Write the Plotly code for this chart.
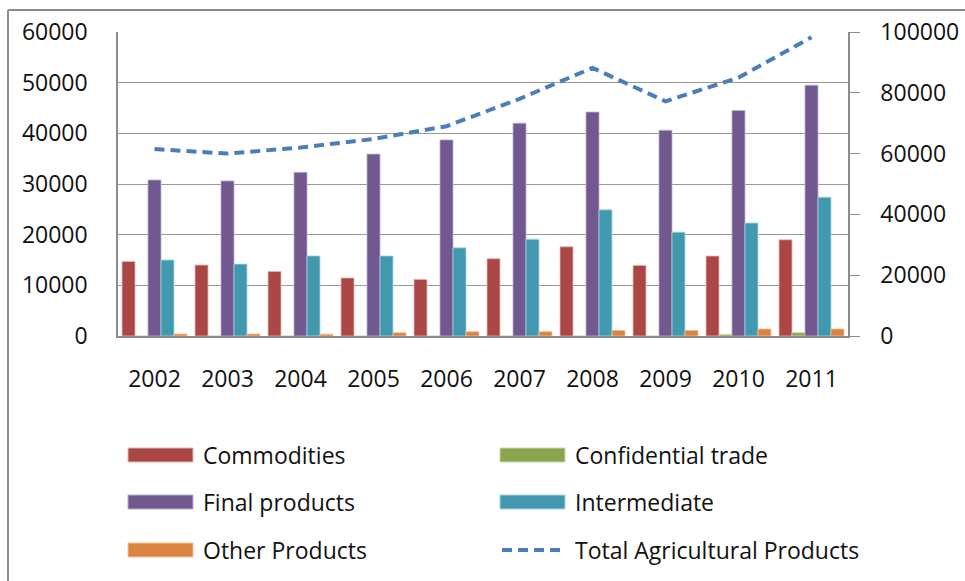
import plotly.graph_objects as go

years = ["2002", "2003", "2004", "2005", "2006", "2007", "2008", "2009", "2010", "2011"]
commodities = [14700, 14000, 12750, 11450, 11170, 15250, 17600, 13930, 15790, 19000]
confidential = [0, 0, 0, 0, 0, 0, 0, 0, 300, 650]
final_products = [30800, 30600, 32300, 35900, 38700, 42000, 44200, 40600, 44500, 49500]
intermediate = [15000, 14200, 15800, 15800, 17400, 19100, 24900, 20500, 22300, 27400]
other_products = [400, 400, 350, 650, 850, 850, 1100, 1100, 1380, 1380]
total_agri = [61500, 60000, 62000, 64800, 69000, 78000, 88200, 77200, 85000, 98300]

bar_names = ["Commodities", "Confidential trade", "Final products", "Intermediate", "Other Products"]
bar_values = [commodities, confidential, final_products, intermediate, other_products]
bar_colors = ["#AA4643", "#89A54E", "#71588F", "#4198AF", "#DB843D"]
bar_edges = ["#E8B4B3", "#C9DBA8", "#BCAED0", "#A9D6E2", "#F2C29C"]
line_name = "Total Agricultural Products"
line_color = "#4A7EBB"

FONT = "Open Sans, Noto Sans, sans-serif"
W, H = 965, 581
L, R, T, B = 118, 848, 32, 336

fig = go.Figure()
for name, vals, col, edge in zip(bar_names, bar_values, bar_colors, bar_edges):
    fig.add_trace(go.Bar(x=years, y=vals, name=name, marker_color=col,
                         marker_line=dict(color=edge, width=0.8), showlegend=False))
fig.add_trace(go.Scatter(x=years, y=total_agri, name=line_name, yaxis="y2", mode="lines",
                         line=dict(color=line_color, width=4, dash="10px,6px"), showlegend=False))

fig.update_layout(
    template="none",
    width=W, height=H,
    margin=dict(l=L, r=W - R, t=T, b=H - B, pad=0, autoexpand=False),
    paper_bgcolor="white", plot_bgcolor="white",
    font=dict(family=FONT, size=23, color="#111"),
    barmode="group", bargap=0.11, bargroupgap=0,
    xaxis=dict(type="category", tickmode="array", tickvals=years, ticktext=years,
               showline=True, linecolor="#8C8C8C", linewidth=2, ticks="outside",
               ticklen=0, ticklabelstandoff=21, showgrid=False, mirror=False,
               automargin=False, zeroline=False),
    yaxis=dict(range=[0, 60000], dtick=10000, tickformat="d", showline=True,
               linecolor="#8C8C8C", linewidth=1.5, showgrid=True, gridcolor="#9A9A9A",
               gridwidth=1, ticks="", ticklabelstandoff=24, zeroline=False,
               automargin=False),
    yaxis2=dict(range=[0, 100000], dtick=20000, tickformat="d", overlaying="y",
                side="right", showline=True, linecolor="#8C8C8C", linewidth=1.5,
                showgrid=False, ticks="outside", ticklen=10, tickcolor="#8C8C8C",
                ticklabelstandoff=16, zeroline=False, automargin=False),
)

def px_x(p):
    return (p - L) / (R - L)

def px_y(p):
    return (B - p) / (B - T)

# outer frame (left and top edges visible)
fig.add_shape(type="line", xref="paper", yref="paper", x0=px_x(8), x1=px_x(8),
              y0=px_y(1000), y1=px_y(10), line=dict(color="#8C8C8C", width=2))
fig.add_shape(type="line", xref="paper", yref="paper", x0=px_x(8), x1=px_x(1200),
              y0=px_y(10), y1=px_y(10), line=dict(color="#8C8C8C", width=2))

# manual legend, two columns x three rows
legend_items = [(n, c, "bar") for n, c in zip(bar_names, bar_colors)] + [(line_name, line_color, "line")]
col_x = [128, 500]
row_y = [455, 502, 550]
for i, (name, col, kind) in enumerate(legend_items):
    cx = col_x[i % 2]
    cy = row_y[i // 2]
    if kind == "bar":
        fig.add_shape(type="rect", xref="paper", yref="paper",
                      x0=px_x(cx), x1=px_x(cx + 65), y0=px_y(cy + 7), y1=px_y(cy - 7),
                      fillcolor=col, line=dict(color=bar_edges[i], width=1))
    else:
        fig.add_shape(type="line", xref="paper", yref="paper",
                      x0=px_x(cx + 2), x1=px_x(cx + 65), y0=px_y(cy), y1=px_y(cy),
                      line=dict(color=col, width=4, dash="10px,6px"))
    fig.add_annotation(text=name, xref="paper", yref="paper", x=px_x(cx + 73), y=px_y(cy),
                       xanchor="left", yanchor="middle", showarrow=False,
                       font=dict(family=FONT, size=23, color="#111"))

fig.write_html("out.html", config={"displayModeBar": False},
               post_script="document.body.style.margin='0';document.body.style.overflow='hidden';")
